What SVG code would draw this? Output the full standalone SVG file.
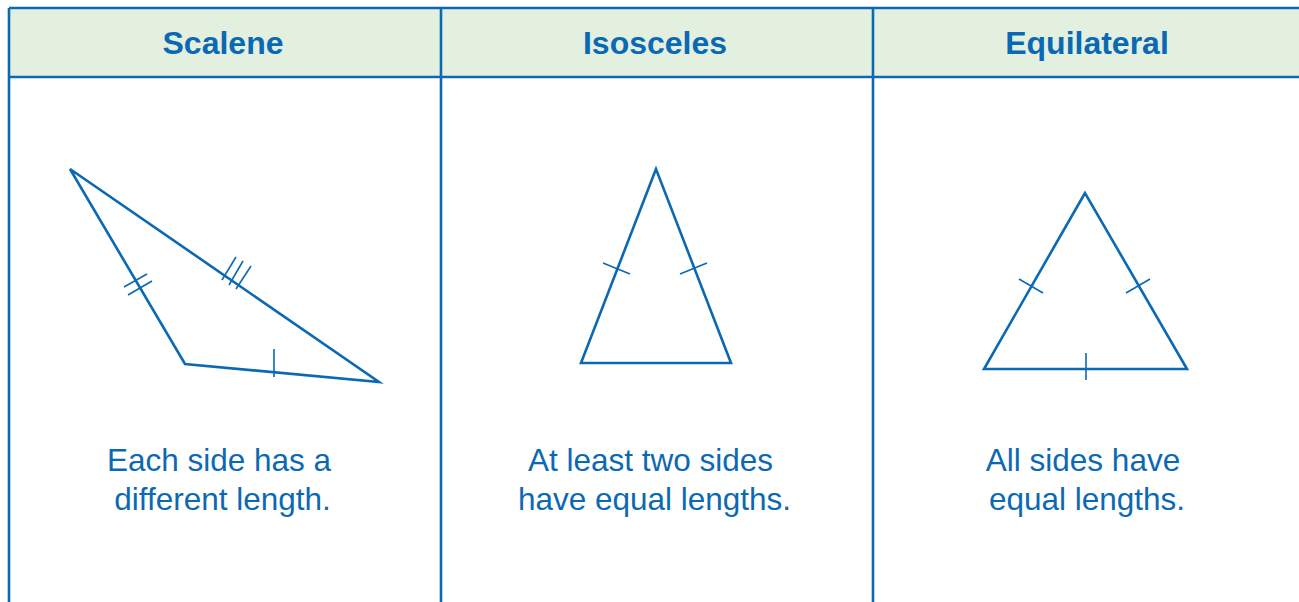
<svg xmlns="http://www.w3.org/2000/svg" width="1299" height="602" viewBox="0 0 1299 602">
<style>
.ln{stroke:#0b69b4;stroke-width:2.6;fill:none}
.tri{stroke:#0b69b4;stroke-width:2.6;fill:none;stroke-linejoin:miter}
.tk{stroke:#0b69b4;stroke-width:1.6;fill:none}
.hd{font-family:"Liberation Sans",Arial,sans-serif;font-weight:bold;font-size:32px;fill:#0b69b4;text-anchor:middle}
.bd{font-family:"Liberation Sans",Arial,sans-serif;font-size:31.5px;fill:#0b69b4;text-anchor:middle}
</style>
<rect x="0" y="0" width="1299" height="602" fill="#ffffff"/>
<g id="table">
<rect x="9" y="8" width="1295" height="69" fill="#e3f0df"/>
<line class="ln" x1="9" y1="8" x2="1299" y2="8"/>
<line class="ln" x1="9" y1="77" x2="1299" y2="77"/>
<line class="ln" x1="9" y1="8" x2="9" y2="602"/>
<line class="ln" x1="441" y1="8" x2="441" y2="602"/>
<line class="ln" x1="873" y1="8" x2="873" y2="602"/>
</g>
<g id="scalene">
<text class="hd" x="223" y="54">Scalene</text>
<polygon class="tri" points="70,169 185,364 379,382"/>
<line class="tk" x1="124" y1="287" x2="147" y2="274"/>
<line class="tk" x1="128" y1="295" x2="152" y2="281"/>
<line class="tk" x1="222" y1="280" x2="236" y2="257"/>
<line class="tk" x1="229" y1="285" x2="243" y2="261"/>
<line class="tk" x1="236" y1="289" x2="251" y2="266"/>
<line class="tk" x1="274" y1="349" x2="274" y2="377"/>
<text class="bd" x="219" y="471">Each side has a</text>
<text class="bd" x="222.5" y="510">different length.</text>
</g>
<g id="isosceles">
<text class="hd" x="655" y="54">Isosceles</text>
<polygon class="tri" points="656,169 581,363 731,363"/>
<line class="tk" x1="603" y1="263" x2="630" y2="274"/>
<line class="tk" x1="680" y1="274" x2="707" y2="263"/>
<text class="bd" x="650.5" y="471">At least two sides</text>
<text class="bd" x="654.5" y="510">have equal lengths.</text>
</g>
<g id="equilateral">
<text class="hd" x="1087" y="54">Equilateral</text>
<polygon class="tri" points="1085,193 984,369 1187,369"/>
<line class="tk" x1="1019" y1="279" x2="1043" y2="293"/>
<line class="tk" x1="1126" y1="293" x2="1150" y2="279"/>
<line class="tk" x1="1086" y1="353" x2="1086" y2="380"/>
<text class="bd" x="1083" y="471">All sides have</text>
<text class="bd" x="1087" y="510">equal lengths.</text>
</g>
</svg>
